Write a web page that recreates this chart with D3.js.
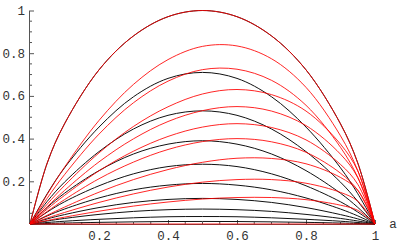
<!DOCTYPE html>
<html>
<head>
<meta charset="utf-8">
<script src="https://cdn.jsdelivr.net/npm/d3@7"></script>
<style>
  body { margin: 0; background: #fff; }
  svg { display: block; }
  .tick text { font-family: "Liberation Mono", "DejaVu Sans Mono", monospace; font-size: 12.5px; fill: #333; }
  .axis path, .axis line { stroke: #555; }
</style>
</head>
<body>
<div id="chart"></div>
<script>
// sample points along a
var aVals = [0, 0.05, 0.1, 0.2, 0.3, 0.4, 0.5, 0.6, 0.7, 0.8, 0.9, 0.95, 1]

// black (symmetric) curves
var blackCurves = [
  [0, 0.286, 0.469, 0.722, 0.881, 0.971, 1, 0.971, 0.881, 0.722, 0.469, 0.286, 0],
  [0, 0.142, 0.263, 0.454, 0.596, 0.682, 0.71, 0.682, 0.596, 0.454, 0.263, 0.142, 0],
  [0, 0.106, 0.196, 0.339, 0.445, 0.509, 0.53, 0.509, 0.445, 0.339, 0.196, 0.106, 0],
  [0, 0.078, 0.144, 0.25, 0.328, 0.374, 0.39, 0.374, 0.328, 0.25, 0.144, 0.078, 0],
  [0, 0.056, 0.104, 0.179, 0.235, 0.269, 0.28, 0.269, 0.235, 0.179, 0.104, 0.056, 0],
  [0, 0.038, 0.07, 0.122, 0.16, 0.182, 0.19, 0.182, 0.16, 0.122, 0.07, 0.038, 0],
  [0, 0.024, 0.044, 0.077, 0.101, 0.115, 0.12, 0.115, 0.101, 0.077, 0.044, 0.024, 0],
  [0, 0.014, 0.026, 0.045, 0.059, 0.067, 0.07, 0.067, 0.059, 0.045, 0.026, 0.014, 0],
  [0, 0.007, 0.013, 0.022, 0.029, 0.034, 0.035, 0.034, 0.029, 0.022, 0.013, 0.007, 0],
  [0, 0.0024, 0.0044, 0.0077, 0.01, 0.0115, 0.012, 0.0115, 0.01, 0.0077, 0.0044, 0.0024, 0]
]

// red (skewed) curves
var redCurves = [
  [0, 0.286, 0.469, 0.722, 0.881, 0.971, 1, 0.971, 0.881, 0.722, 0.469, 0.286, 0],
  [0, 0.139, 0.266, 0.485, 0.654, 0.77, 0.832, 0.834, 0.774, 0.64, 0.413, 0.25, 0],
  [0, 0.121, 0.231, 0.421, 0.568, 0.669, 0.723, 0.725, 0.673, 0.556, 0.359, 0.218, 0],
  [0, 0.093, 0.18, 0.333, 0.457, 0.549, 0.609, 0.63, 0.606, 0.529, 0.374, 0.249, 0],
  [0, 0.081, 0.157, 0.291, 0.399, 0.48, 0.531, 0.55, 0.529, 0.461, 0.327, 0.218, 0],
  [0, 0.07, 0.134, 0.249, 0.341, 0.41, 0.454, 0.47, 0.452, 0.394, 0.279, 0.186, 0],
  [0, 0.059, 0.114, 0.212, 0.29, 0.349, 0.386, 0.4, 0.385, 0.336, 0.238, 0.158, 0],
  [0, 0.041, 0.079, 0.149, 0.208, 0.255, 0.289, 0.308, 0.307, 0.282, 0.218, 0.158, 0],
  [0, 0.028, 0.054, 0.101, 0.141, 0.173, 0.196, 0.208, 0.208, 0.191, 0.148, 0.107, 0],
  [0, 0.0165, 0.032, 0.06, 0.084, 0.103, 0.117, 0.124, 0.124, 0.114, 0.088, 0.064, 0],
  [0, 0, 0, 0, 0, 0, 0, 0, 0, 0, 0, 0, 0]
]

var xTicks = [0.2, 0.4, 0.6, 0.8, 1]
var yTicks = [0.2, 0.4, 0.6, 0.8, 1]
var minorTicks = [0.05, 0.1, 0.15, 0.25, 0.3, 0.35, 0.45, 0.5, 0.55, 0.65, 0.7, 0.75, 0.85, 0.9, 0.95]

var width = 400, height = 247

var svg = d3.select("#chart").append("svg")
  .attr("width", width)
  .attr("height", height)

var x = d3.scaleLinear().domain([0, 1]).range([30, 375])
var y = d3.scaleLinear().domain([0, 1]).range([224, 10.5])

var fmt = function(d) { return d == 1 ? "1" : d3.format(".1f")(d) }

// axes, ticks pointing into the plot
var xAxis = svg.append("g")
  .attr("class", "axis")
  .attr("transform", "translate(0," + y(0) + ")")
  .call(d3.axisBottom(x).tickValues(xTicks).tickSizeInner(-4).tickSizeOuter(0).tickPadding(7).tickFormat(fmt))
xAxis.select(".domain").attr("d", "M" + x(0) + ",0.5H" + x(1))

var yAxis = svg.append("g")
  .attr("class", "axis")
  .attr("transform", "translate(" + x(0) + ",0)")
  .call(d3.axisLeft(y).tickValues(yTicks).tickSizeInner(-4).tickSizeOuter(0).tickPadding(5).tickFormat(fmt))
yAxis.select(".domain").attr("d", "M-0.5," + y(0) + "V" + y(1))

// minor ticks
svg.append("g").selectAll("line")
  .data(minorTicks)
  .enter().append("line")
  .attr("x1", function(d) { return x(d) })
  .attr("x2", function(d) { return x(d) })
  .attr("y1", y(0))
  .attr("y2", y(0) - 2)
  .attr("stroke", "#555")

svg.append("g").selectAll("line")
  .data(minorTicks)
  .enter().append("line")
  .attr("y1", function(d) { return y(d) })
  .attr("y2", function(d) { return y(d) })
  .attr("x1", x(0))
  .attr("x2", x(0) + 2)
  .attr("stroke", "#555")

svg.append("text")
  .attr("x", 393)
  .attr("y", y(0))
  .attr("dy", "0.32em")
  .attr("text-anchor", "middle")
  .style("font-family", "Liberation Mono, monospace")
  .style("font-size", "12.5px")
  .style("fill", "#333")
  .text("a")

var line = d3.line()
  .x(function(d, i) { return x(aVals[i]) })
  .y(function(d) { return y(d) })
  .curve(d3.curveCatmullRom.alpha(0.5))

svg.append("g").selectAll("path")
  .data(blackCurves)
  .enter().append("path")
  .attr("d", line)
  .attr("fill", "none")
  .attr("stroke", "#111")
  .attr("stroke-width", 1)

svg.append("g").selectAll("path")
  .data(redCurves)
  .enter().append("path")
  .attr("d", line)
  .attr("fill", "none")
  .attr("stroke", "#ff0000")
  .attr("stroke-opacity", 0.85)
  .attr("stroke-width", 1)
</script>
</body>
</html>
